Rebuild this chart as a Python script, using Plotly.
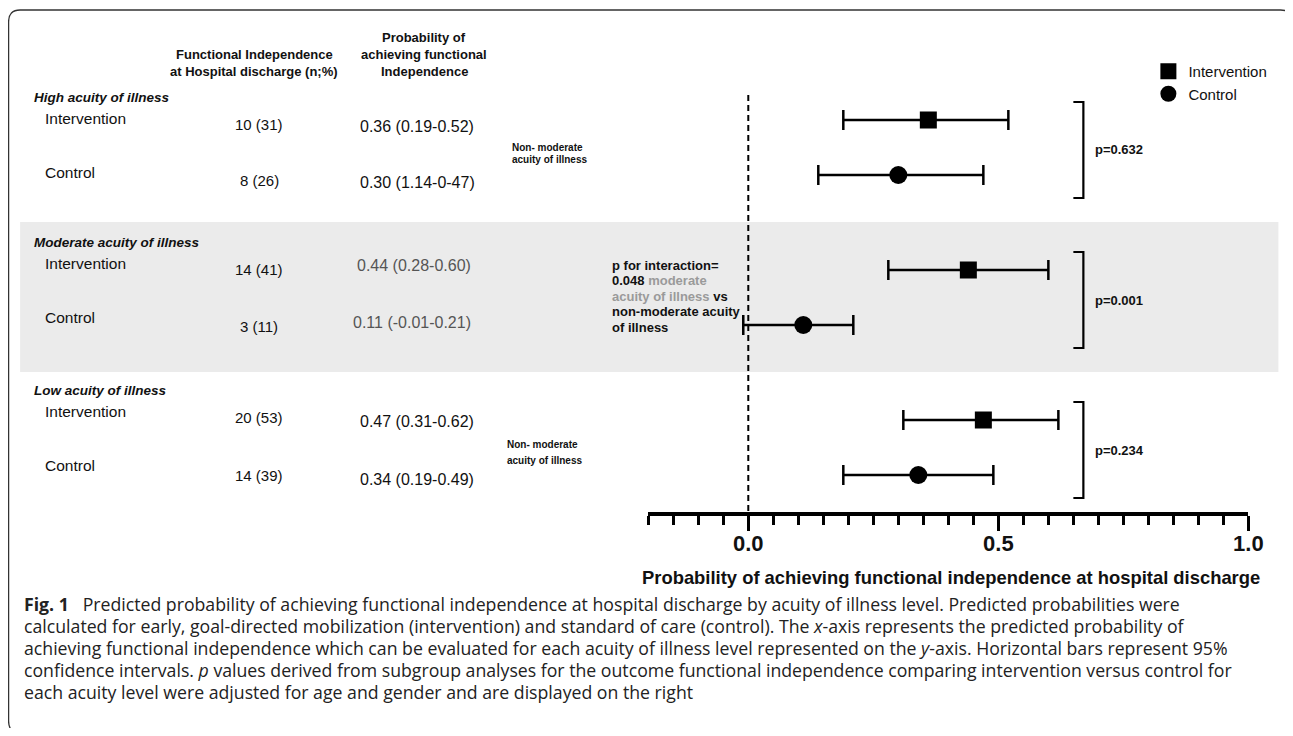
import plotly.graph_objects as go

# ---------------- data ----------------
groups = ["High acuity of illness", "Moderate acuity of illness", "Low acuity of illness"]
arms = ["Intervention", "Control"]
n_text = [["10 (31)", "8 (26)"], ["14 (41)", "3 (11)"], ["20 (53)", "14 (39)"]]
prob_text = [["0.36 (0.19-0.52)", "0.30 (1.14-0-47)"],
             ["0.44 (0.28-0.60)", "0.11 (-0.01-0.21)"],
             ["0.47 (0.31-0.62)", "0.34 (0.19-0.49)"]]
int_est = [0.36, 0.44, 0.47]
int_lo = [0.19, 0.28, 0.31]
int_hi = [0.52, 0.60, 0.62]
ctl_est = [0.30, 0.11, 0.34]
ctl_lo = [0.14, -0.01, 0.19]
ctl_hi = [0.47, 0.21, 0.49]
p_values = ["p=0.632", "p=0.001", "p=0.234"]
x_ticks = [0.0, 0.5, 1.0]
x_title = "Probability of achieving functional independence at hospital discharge"
caption_lines = [
    "<b>Fig. 1</b>&nbsp;&nbsp;&nbsp;Predicted probability of achieving functional independence at hospital discharge by acuity of illness level. Predicted probabilities were",
    "calculated for early, goal-directed mobilization (intervention) and standard of care (control). The <i>x</i>-axis represents the predicted probability of",
    "achieving functional independence which can be evaluated for each acuity of illness level represented on the <i>y</i>-axis. Horizontal bars represent 95%",
    "confidence intervals. <i>p</i> values derived from subgroup analyses for the outcome functional independence comparing intervention versus control for",
    "each acuity level were adjusted for age and gender and are displayed on the right",
]

# ---------------- layout helpers ----------------
OFF = 8          # page body margin
SX = 0.988       # horizontal compensation observed in the rendered page
W, H = 1293 - 2 * OFF, 736 - 2 * OFF
def px(x):
    return (x / SX - OFF) / W
def py(y):
    return 1 - (y - OFF) / H

ARIAL = "Liberation Sans, Arial, Helvetica, sans-serif"
CAP = "Open Sans, Noto Sans, sans-serif"

ROW0, GROUP_STEP, ARM_STEP = 120, 150, 55
int_y = [ROW0 + GROUP_STEP * g for g in range(3)]
ctl_y = [y + ARM_STEP for y in int_y]
TITLE_Y = [97, 243, 390]

fig = go.Figure()

ebar = dict(type="data", symmetric=False, thickness=2.5, width=10, color="black")
fig.add_trace(go.Scatter(
    x=int_est, y=int_y, mode="markers", name="Intervention",
    marker=dict(symbol="square", size=17, color="black"),
    error_x=dict(ebar, array=[h - e for h, e in zip(int_hi, int_est)],
                 arrayminus=[e - l for e, l in zip(int_est, int_lo)]),
))
fig.add_trace(go.Scatter(
    x=ctl_est, y=ctl_y, mode="markers", name="Control",
    marker=dict(symbol="circle", size=18, color="black"),
    error_x=dict(ebar, array=[h - e for h, e in zip(ctl_hi, ctl_est)],
                 arrayminus=[e - l for e, l in zip(ctl_est, ctl_lo)]),
))

shapes = []
shapes.append(dict(type="rect", xref="paper", yref="paper", x0=px(20), x1=px(1278),
                   y0=py(372), y1=py(222), fillcolor="#ebebeb", line=dict(width=0), layer="below"))
shapes.append(dict(type="line", xref="x", yref="y", x0=0, x1=0, y0=95, y1=512,
                   line=dict(color="black", width=2, dash="6px,4px")))
for g in range(3):
    top, bot = int_y[g] - 18, ctl_y[g] + 23
    path = (f"M {px(1073)},{py(top)} L {px(1083)},{py(top)} "
            f"L {px(1083)},{py(bot)} L {px(1073)},{py(bot)}")
    shapes.append(dict(type="path", xref="paper", yref="paper", path=path,
                       line=dict(color="black", width=2.2)))
frame = (f"M {px(20)},{py(733)} Q {px(8.5)},{py(733)} {px(8.5)},{py(721)} "
         f"L {px(8.5)},{py(22)} Q {px(8.5)},{py(10)} {px(20)},{py(10)} "
         f"L {px(1280)},{py(10)} Q {px(1292)},{py(10)} {px(1292)},{py(22)} L {px(1292)},{py(736)}")
shapes.append(dict(type="path", xref="paper", yref="paper", path=frame,
                   line=dict(color="#333", width=1.3)))

ann = []
def text(x, y, s, size, family=ARIAL, anchor="left", color="#111"):
    ann.append(dict(x=px(x), y=py(y), xref="paper", yref="paper", text=s, showarrow=False,
                    xanchor=anchor, yanchor="middle", align=anchor,
                    font=dict(size=size, family=family, color=color)))

# column headers
text(254, 55, "<b>Functional Independence</b>", 13, anchor="center")
text(254, 71, "<b>at Hospital discharge (n;%)</b>", 13, anchor="center")
text(424, 38, "<b>Probability of</b>", 13, anchor="center")
text(424, 55, "<b>achieving functional</b>", 13, anchor="center")
text(424, 71, "<b>Independence</b>", 13, anchor="center")

arm_off = [[21, 76], [20, 74], [21, 75]]
n_off = [[28, 83], [26, 83], [27, 85]]
p_off = [[30, 85], [22, 79], [32, 89]]
for g in range(3):
    text(32, TITLE_Y[g], f"<b><i>{groups[g]}</i></b>", 13.5)
    for a in range(2):
        text(43, TITLE_Y[g] + arm_off[g][a], arms[a], 15.5)
        text(259, TITLE_Y[g] + n_off[g][a], n_text[g][a], 15, anchor="center")
        if g == 1:
            text(473, TITLE_Y[g] + p_off[g][a], prob_text[g][a], 16, anchor="right", color="#555")
        else:
            text(417, TITLE_Y[g] + p_off[g][a], prob_text[g][a], 16, anchor="center")

# middle annotations
text(510, 147, "<b>Non- moderate</b>", 10)
text(510, 159, "<b>acuity of illness</b>", 10)
text(505, 445, "<b>Non- moderate</b>", 10)
text(505, 460, "<b>acuity of illness</b>", 10)
inter = ["<b>p for interaction=</b>",
         "<b>0.048 <span style='color:#9a9a9a'>moderate</span></b>",
         "<b><span style='color:#9a9a9a'>acuity of illness</span> vs</b>",
         "<b>non-moderate acuity</b>",
         "<b>of illness</b>"]
for i, s in enumerate(inter):
    text(610, 265 + 15.5 * i, s, 13)

# p-values
for g in range(3):
    text(1093, (int_y[g] - 18 + ctl_y[g] + 23) / 2, f"<b>{p_values[g]}</b>", 13)

# axis title
text(951, 577, f"<b>{x_title}</b>", 18.4, anchor="center")

# caption
for i, s in enumerate(caption_lines):
    text(22, 604 + 22 * i, s, 17.7, family=CAP, color="#222")

fig.update_layout(
    width=W, height=H, margin=dict(l=0, r=0, t=0, b=0),
    paper_bgcolor="white", plot_bgcolor="rgba(0,0,0,0)",
    shapes=shapes, annotations=ann,
    showlegend=True,
    legend=dict(x=px(1148), y=py(55), xanchor="left", yanchor="top",
                bgcolor="rgba(0,0,0,0)", font=dict(family=ARIAL, size=15, color="#111"),
                itemwidth=30, tracegroupgap=0),
    xaxis=dict(domain=[px(648), px(1248)], range=[-0.2, 1.0], tickvals=x_ticks,
               tickformat=".1f", showgrid=False, zeroline=False,
               showline=True, linecolor="black", linewidth=4,
               ticks="outside", ticklen=15, tickwidth=3, tickcolor="black",
               ticklabelstandoff=-6,
               tickfont=dict(family=ARIAL, size=22, color="#111", weight="bold"),
               minor=dict(dtick=0.05, tick0=0, ticks="outside", ticklen=9, tickwidth=3,
                          tickcolor="black", showgrid=False),
               fixedrange=True),
    yaxis=dict(domain=[py(512), 1], range=[512, OFF], visible=False, fixedrange=True),
)

fig.write_html("out.html")
